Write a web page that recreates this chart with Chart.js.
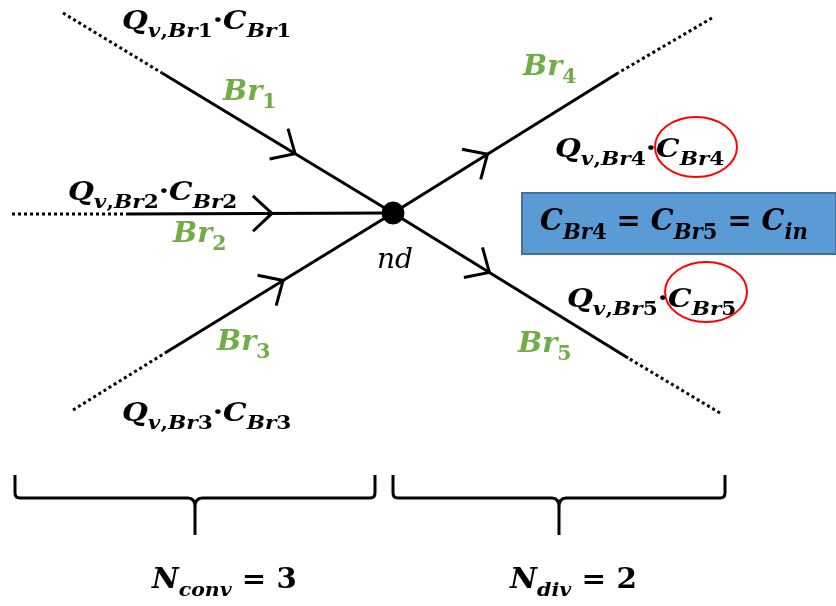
<!DOCTYPE html>
<html>
<head>
<meta charset="utf-8">
<script src="https://cdn.jsdelivr.net/npm/chart.js@4"></script>
<style>
  body { margin: 0; background: #fff; }
  #wrap { width: 836px; height: 606px; }
</style>
</head>
<body>
<div id="wrap"><canvas id="diagram"></canvas></div>
<script>
// branch data (diagram units)
const branchNames = ['Br1', 'Br2', 'Br3', 'Br4', 'Br5'];
const nodeXY = [393, 213];
const outerX = [63, 12, 73, 712, 720];
const outerY = [13, 214, 410, 18, 413];
const solidX = [162, 127, 165, 618, 628];
const solidY = [73, 214, 353, 73, 358];
const flowIn = [true, true, true, false, false];
const arrowAt = [0.576, 0.545, 0.518, 0.42, 0.41];
const nConv = 3;
const nDiv = 2;

// labels: text, x, y (baseline), font size, colour, horizontal stretch
const labels = [
    { t: 'Q_{v,Br1}·C_{Br1}', x: 122, y: 29, size: 26, color: '#000', sx: 1.14 },
    { t: 'Q_{v,Br2}·C_{Br2}', x: 68, y: 200, size: 26, color: '#000', sx: 1.14 },
    { t: 'Q_{v,Br3}·C_{Br3}', x: 122, y: 421, size: 26, color: '#000', sx: 1.14 },
    { t: 'Q_{v,Br4}·C_{Br4}', x: 555, y: 157, size: 26, color: '#000', sx: 1.14 },
    { t: 'Q_{v,Br5}·C_{Br5}', x: 567, y: 307, size: 26, color: '#000', sx: 1.14 },
    { t: 'Br_{1}', x: 223, y: 100, size: 28, color: '#70AD47', sx: 1.02 },
    { t: 'Br_{2}', x: 173, y: 242, size: 28, color: '#70AD47', sx: 1.02 },
    { t: 'Br_{3}', x: 217, y: 350, size: 28, color: '#70AD47', sx: 1.02 },
    { t: 'Br_{4}', x: 523, y: 75, size: 28, color: '#70AD47', sx: 1.02 },
    { t: 'Br_{5}', x: 518, y: 352, size: 28, color: '#70AD47', sx: 1.02 },
    { t: 'nd', x: 377, y: 268, size: 28, color: '#000', sx: 1.0, light: true },
    { t: 'C_{Br4} = C_{Br5} = C_{in}', x: 540, y: 230, size: 30, color: '#000', sx: 0.96 },
    { t: 'N_{conv} = ' + nConv, x: 152, y: 588, size: 27, color: '#000', sx: 1.08 },
    { t: 'N_{div} = ' + nDiv, x: 510, y: 588, size: 27, color: '#000', sx: 1.09 }
];
const circled = [[696, 147, 41, 30], [706, 292, 41, 30]];
const braces = [[15, 375], [393, 725]];

const FONT = '"DejaVu Serif", serif';

function parseRuns(str) {
    const out = [];
    let i = 0;
    while (i < str.length) {
        if (str.startsWith('_{', i)) {
            const j = str.indexOf('}', i);
            out.push({ t: str.slice(i + 2, j), sub: true });
            i = j + 1;
        } else {
            let j = i;
            while (j < str.length && !str.startsWith('_{', j)) j++;
            out.push({ t: str.slice(i, j), sub: false });
            i = j;
        }
    }
    return out;
}

function drawMath(ctx, lab, px, py) {
    let x = px(lab.x);
    const y = py(lab.y);
    ctx.fillStyle = lab.color;
    ctx.textBaseline = 'alphabetic';
    ctx.textAlign = 'left';
    parseRuns(lab.t).forEach(r => {
        const size = r.sub ? Math.round(lab.size * 0.72) : lab.size;
        const dy = r.sub ? lab.size * 0.3 : 0;
        for (const ch of r.t) {
            const letter = /[A-Za-z]/.test(ch);
            const w = lab.light ? '' : 'bold ';
            ctx.font = (letter ? 'italic ' : '') + w + size + 'px ' + FONT;
            ctx.save();
            ctx.translate(x, y + dy);
            ctx.scale(lab.sx, 1);
            ctx.fillText(ch, 0, 0);
            ctx.restore();
            x += ctx.measureText(ch).width * lab.sx;
        }
    });
}

const datasets = [];
branchNames.forEach((b, i) => {
    datasets.push({
        label: b + ' solid',
        data: [{ x: solidX[i], y: solidY[i] }, { x: nodeXY[0], y: nodeXY[1] }],
        showLine: true, borderColor: '#000', borderWidth: 3, pointRadius: 0
    });
    datasets.push({
        label: b + ' dotted',
        data: [{ x: outerX[i], y: outerY[i] }, { x: solidX[i], y: solidY[i] }],
        showLine: true, borderColor: '#000', borderWidth: 3, borderDash: [3, 3],
        borderCapStyle: 'butt', pointRadius: 0
    });
});
datasets.push({
    label: 'nd',
    data: [{ x: nodeXY[0], y: nodeXY[1] }],
    pointRadius: 11, backgroundColor: '#000', borderColor: '#000'
});

const overlay = {
    id: 'overlay',
    afterDatasetsDraw(chart) {
        const ctx = chart.ctx;
        const px = v => chart.scales.x.getPixelForValue(v);
        const py = v => chart.scales.y.getPixelForValue(v);
        ctx.save();

        // arrow heads
        ctx.strokeStyle = '#000';
        ctx.lineWidth = 3;
        ctx.lineCap = 'butt';
        branchNames.forEach((b, i) => {
            const ax = px(solidX[i]), ay = py(solidY[i]);
            const bx = px(nodeXY[0]), by = py(nodeXY[1]);
            let tx, ty, dx, dy;
            if (flowIn[i]) {
                tx = ax + (bx - ax) * arrowAt[i]; ty = ay + (by - ay) * arrowAt[i];
                dx = bx - ax; dy = by - ay;
            } else {
                tx = bx + (ax - bx) * arrowAt[i]; ty = by + (ay - by) * arrowAt[i];
                dx = ax - bx; dy = ay - by;
            }
            const ang = Math.atan2(dy, dx) + Math.PI;
            const len = 26;
            ctx.beginPath();
            ctx.moveTo(tx + len * Math.cos(ang - 0.75), ty + len * Math.sin(ang - 0.75));
            ctx.lineTo(tx, ty);
            ctx.lineTo(tx + len * Math.cos(ang + 0.75), ty + len * Math.sin(ang + 0.75));
            ctx.stroke();
        });

        // braces
        ctx.lineWidth = 3;
        braces.forEach(([a, b]) => {
            const x0 = px(a), x1 = px(b), c = (x0 + x1) / 2;
            const y0 = py(475), y1 = py(498), y2 = py(535);
            ctx.beginPath();
            ctx.moveTo(x0, y0);
            ctx.lineTo(x0, y1 - 5);
            ctx.quadraticCurveTo(x0, y1, x0 + 5, y1);
            ctx.lineTo(c - 7, y1);
            ctx.quadraticCurveTo(c, y1, c, y1 + 9);
            ctx.lineTo(c, y2);
            ctx.moveTo(c, y1 + 9);
            ctx.quadraticCurveTo(c, y1, c + 7, y1);
            ctx.lineTo(x1 - 5, y1);
            ctx.quadraticCurveTo(x1, y1, x1, y1 - 5);
            ctx.lineTo(x1, y0);
            ctx.stroke();
        });

        // blue box
        ctx.fillStyle = '#5B9BD5';
        ctx.strokeStyle = '#41719C';
        ctx.lineWidth = 2;
        ctx.fillRect(px(522), py(193), px(836) - px(522), py(254) - py(193));
        ctx.strokeRect(px(522), py(193), px(836) - px(522), py(254) - py(193));

        labels.forEach(l => drawMath(ctx, l, px, py));

        // red ellipses
        ctx.strokeStyle = '#FF0000';
        ctx.lineWidth = 2;
        circled.forEach(([cx, cy, rx, ry]) => {
            ctx.beginPath();
            ctx.ellipse(px(cx), py(cy), px(cx + rx) - px(cx), py(cy + ry) - py(cy), 0, 0, Math.PI * 2);
            ctx.stroke();
        });
        ctx.restore();
    }
};

new Chart(document.getElementById('diagram'), {
    type: 'scatter',
    data: { datasets },
    options: {
        responsive: true,
        maintainAspectRatio: false,
        animation: false,
        layout: { padding: 0, autoPadding: false },
        plugins: { legend: { display: false }, tooltip: { enabled: false } },
        scales: {
            x: { type: 'linear', min: 0, max: 836, display: false },
            y: { type: 'linear', min: 0, max: 606, reverse: true, display: false }
        }
    },
    plugins: [overlay]
});
</script>
</body>
</html>
